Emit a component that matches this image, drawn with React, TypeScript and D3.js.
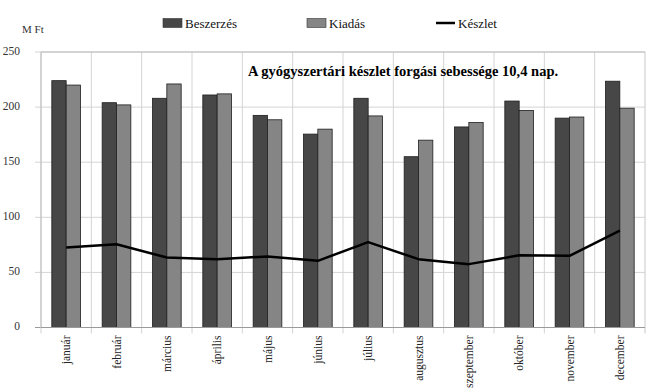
import { useEffect, useRef } from "react";
import * as d3 from "d3";

const months = [
  "január", "február", "március", "április", "május", "június",
  "július", "augusztus", "szeptember", "október", "november", "december",
];
const beszerzes = [224, 204, 208, 211, 192.5, 175.5, 208, 155, 182, 205.5, 190, 223.5];
const kiadas = [220, 202, 221, 212, 188.5, 180, 192, 170, 186, 197, 191, 199];
const keszlet = [72.5, 75.5, 63.5, 62, 64.5, 60.5, 77.5, 62, 57.5, 65.5, 65, 88];
const yTicks = [0, 50, 100, 150, 200, 250];

const FONT = "Liberation Serif, DejaVu Serif, serif";

export default function App() {
  const svgRef = useRef<SVGSVGElement>(null);

  useEffect(() => {
    if (!svgRef.current) return;
    const svg = d3.select(svgRef.current);
    svg.selectAll("*").remove();

    const width = 651;
    const height = 391;
    const margin = { top: 52, right: 6, bottom: 63.5, left: 41 };
    const innerW = width - margin.left - margin.right;
    const innerH = height - margin.top - margin.bottom;

    svg.attr("width", width).attr("height", height)
      .attr("font-family", FONT)
      .style("background", "#fff");

    const g = svg.append("g").attr("transform", `translate(${margin.left},${margin.top})`);

    const x = d3.scaleBand<string>().domain(months).range([0, innerW]).padding(0);
    const y = d3.scaleLinear().domain([0, 250]).range([innerH, 0]);

    const groupW = x.bandwidth() * 0.57;
    const barW = groupW / 2;

    // ── Grid ─────────────────────────────────────────
    yTicks.forEach((t) => {
      g.append("line")
        .attr("x1", -6).attr("x2", innerW)
        .attr("y1", y(t)).attr("y2", y(t))
        .attr("stroke", t === 0 ? "#9a9a9a" : "#d4d4d4")
        .attr("stroke-width", 1);
      g.append("text")
        .attr("x", -21).attr("y", y(t))
        .attr("text-anchor", "end")
        .attr("dominant-baseline", "middle")
        .attr("font-family", FONT)
        .attr("font-size", 11.5)
        .attr("fill", "#333")
        .text(t);
    });

    months.forEach((m) => {
      const xx = x(m)!;
      g.append("line")
        .attr("x1", xx).attr("x2", xx)
        .attr("y1", 0).attr("y2", innerH + 6)
        .attr("stroke", "#d4d4d4");
    });
    g.append("line")
      .attr("x1", innerW).attr("x2", innerW)
      .attr("y1", 0).attr("y2", innerH + 6)
      .attr("stroke", "#c8c8c8");
    g.append("line")
      .attr("x1", 0).attr("x2", innerW)
      .attr("y1", 0).attr("y2", 0)
      .attr("stroke", "#bdbdbd");
    g.append("line")
      .attr("x1", 0).attr("x2", 0)
      .attr("y1", 0).attr("y2", innerH)
      .attr("stroke", "#bdbdbd");

    // ── Bars ─────────────────────────────────────────
    months.forEach((m, i) => {
      const cx = x(m)! + x.bandwidth() / 2;
      g.append("rect")
        .attr("x", cx - barW).attr("y", y(beszerzes[i]))
        .attr("width", barW).attr("height", innerH - y(beszerzes[i]))
        .attr("fill", "#474747").attr("stroke", "#1e1e1e").attr("stroke-width", 0.8);
      g.append("rect")
        .attr("x", cx).attr("y", y(kiadas[i]))
        .attr("width", barW).attr("height", innerH - y(kiadas[i]))
        .attr("fill", "#858585").attr("stroke", "#1e1e1e").attr("stroke-width", 0.8);
    });

    // redraw x axis over bars
    g.append("line")
      .attr("x1", 0).attr("x2", innerW)
      .attr("y1", innerH).attr("y2", innerH)
      .attr("stroke", "#9a9a9a");

    // ── Készlet line ─────────────────────────────────
    const line = d3.line<number>()
      .x((_, i) => x(months[i])! + x.bandwidth() / 2)
      .y((d) => y(d));
    g.append("path")
      .datum(keszlet)
      .attr("d", line)
      .attr("fill", "none")
      .attr("stroke", "#000")
      .attr("stroke-width", 2.5)
      .attr("stroke-linejoin", "round");

    // ── X labels ─────────────────────────────────────
    months.forEach((m) => {
      const cx = x(m)! + x.bandwidth() / 2;
      g.append("text")
        .attr("transform", `translate(${cx + 4},${innerH + 8}) rotate(-90)`)
        .attr("text-anchor", "end")
        .attr("font-family", FONT)
        .attr("font-size", 11.5)
        .attr("fill", "#222")
        .text(m);
    });

    // ── Annotation ───────────────────────────────────
    svg.append("text")
      .attr("x", 248).attr("y", 76)
      .attr("font-family", FONT)
      .attr("font-size", 14.5)
      .attr("font-weight", "bold")
      .attr("fill", "#000")
      .text("A gyógyszertári készlet forgási sebessége 10,4 nap.");

    svg.append("text")
      .attr("x", 22).attr("y", 33)
      .attr("font-family", FONT)
      .attr("font-size", 11)
      .attr("fill", "#333")
      .text("M Ft");

    // ── Legend ───────────────────────────────────────
    const legend = [
      { label: "Beszerzés", x: 163, kind: "rect", fill: "#474747" },
      { label: "Kiadás", x: 307, kind: "rect", fill: "#858585" },
      { label: "Készlet", x: 436, kind: "line", fill: "#000" },
    ];
    legend.forEach((l) => {
      if (l.kind === "rect") {
        svg.append("rect")
          .attr("x", l.x).attr("y", 18.5)
          .attr("width", 19).attr("height", 9)
          .attr("fill", l.fill).attr("stroke", "#333").attr("stroke-width", 0.6);
      } else {
        svg.append("line")
          .attr("x1", l.x).attr("x2", l.x + 19)
          .attr("y1", 23).attr("y2", 23)
          .attr("stroke", l.fill).attr("stroke-width", 2.5);
      }
      svg.append("text")
        .attr("x", l.x + 22).attr("y", 28)
        .attr("font-family", FONT)
        .attr("font-size", 13)
        .attr("fill", "#111")
        .text(l.label);
    });
  }, []);

  return <svg ref={svgRef} style={{ position: "absolute", left: 0, top: 0, display: "block" }} />;
}
